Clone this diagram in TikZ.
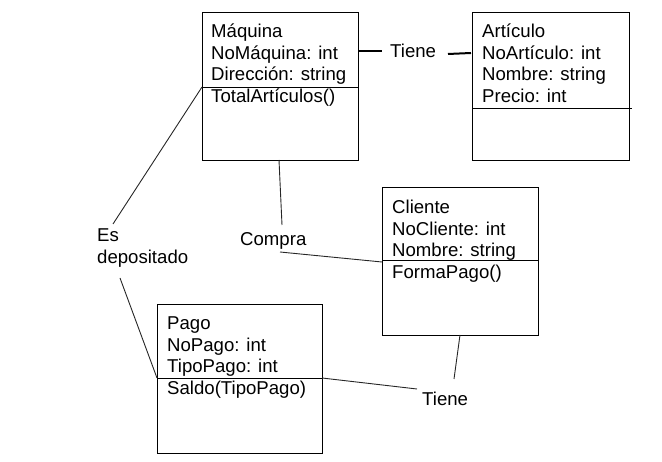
\documentclass[tikz,border=0pt]{standalone}
\usepackage{fontspec}
\setmainfont{Liberation Sans}
\begin{document}
\begin{tikzpicture}[x=1pt,y=-1pt,
  umlbox/.style={draw,line width=1.2pt,rectangle,inner sep=0pt,anchor=north west},
  txt/.style={inner sep=0pt,anchor=base west,font=\fontsize{18.6}{21.5}\selectfont},
  divider/.style={line width=0.9pt},
  link/.style={line width=0.9pt,black!85},
  boldlink/.style={line width=2pt}]
\useasboundingbox (0,0) rectangle (662,462);
% boxes
\node[umlbox,minimum width=156pt,minimum height=148pt] (maq) at (202,12) {};
\node[umlbox,minimum width=157pt,minimum height=148pt] (art) at (472,12) {};
\node[umlbox,minimum width=156pt,minimum height=148pt] (cli) at (382,187) {};
\node[umlbox,minimum width=165pt,minimum height=149pt] (pago) at (157,304) {};
% dividers
\coordinate (maqdl) at (202,87);  \coordinate (maqdr) at (358,87);
\coordinate (artdl) at (472,108.5); \coordinate (artdr) at (632,108.5);
\coordinate (clidl) at (382,260); \coordinate (clidr) at (538,260);
\coordinate (pagodl) at (157,378); \coordinate (pagodr) at (322,378);
\draw[divider] (maqdl) -- (maqdr);
\draw[divider] (artdl) -- (artdr);
\draw[divider] (clidl) -- (clidr);
\draw[divider] (pagodl) -- (pagodr);
% texts
\node[txt] (maq1) at (211,38) {Máquina};
\node[txt] (maq2) at (211,59.5) {NoMáquina: int};
\node[txt] (maq3) at (211,81) {Dirección: string};
\node[txt] (maq4) at (211,102.5) {TotalArtículos()};
\node[txt] (art1) at (482,38) {Artículo};
\node[txt] (art2) at (482,59.5) {NoArtículo: int};
\node[txt] (art3) at (482,81) {Nombre: string};
\node[txt] (art4) at (482,102.5) {Precio: int};
\node[txt] (cli1) at (392,214) {Cliente};
\node[txt] (cli2) at (392,235.5) {NoCliente: int};
\node[txt] (cli3) at (392,257) {Nombre: string};
\node[txt] (cli4) at (392,278.5) {FormaPago()};
\node[txt] (pago1) at (167,330) {Pago};
\node[txt] (pago2) at (167,351.5) {NoPago: int};
\node[txt] (pago3) at (167,373) {TipoPago: int};
\node[txt] (pago4) at (167,394.5) {Saldo(TipoPago)};
% relation labels
\node[txt] (tiene1) at (390,58) {Tiene};
\node[txt] (compra) at (240,246) {Compra};
\node[txt] (es) at (97,242) {Es};
\node[txt] (depositado) at (97,263.5) {depositado};
\node[txt] (tiene2) at (422,406) {Tiene};
% connector end points
\coordinate (t1a) at (359,51);   \coordinate (t1b) at (382,51);
\coordinate (t1c) at (448,54);   \coordinate (t1d) at (471,53);
\coordinate (maqbot) at (279,160); \coordinate (compratop) at (282,225);
\coordinate (comprabot) at (280,252); \coordinate (clileft) at (382,262);
\coordinate (estop) at (113,224); \coordinate (depbot) at (120,278);
\coordinate (clibot) at (460,335); \coordinate (t2top) at (454,379);
\coordinate (t2left) at (417,389);
% connectors
\draw[boldlink] (t1a) -- (t1b);
\draw[boldlink] (t1c) -- (t1d);
\draw[link] (maqbot) -- (compratop);
\draw[link] (comprabot) -- (clileft);
\draw[link] (maqdl) -- (estop);
\draw[link] (depbot) -- (pagodl);
\draw[link] (pagodr) -- (t2left);
\draw[link] (clibot) -- (t2top);
\end{tikzpicture}
\end{document}
